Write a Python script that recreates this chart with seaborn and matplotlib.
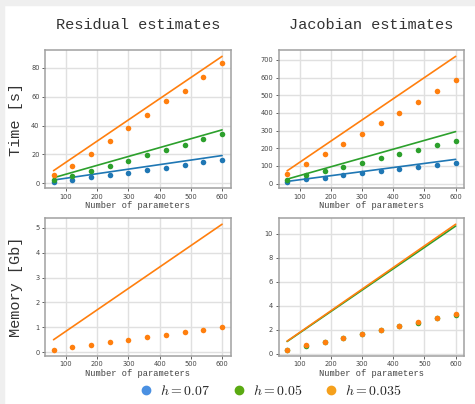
import numpy as np
import matplotlib
matplotlib.use('Agg')
import matplotlib.pyplot as plt
import seaborn as sns
from matplotlib.lines import Line2D
from matplotlib.patches import Rectangle

# data
n_params = [60, 120, 180, 240, 300, 360, 420, 480, 540, 600]
line_x = [60, 600]

res_time_007 = [1.0, 2.5, 4.0, 5.8, 7.3, 9.0, 10.8, 12.8, 14.5, 16.0]
res_time_005 = [2.5, 5.0, 8.3, 12.0, 15.5, 19.3, 23.0, 26.5, 30.5, 34.0]
res_time_0035 = [5.5, 12.0, 20.0, 29.0, 38.3, 47.3, 57.0, 64.3, 74.0, 83.5]
res_time_fit_007 = [2.2, 19.2]
res_time_fit_005 = [3.8, 37.0]
res_time_fit_0035 = [8.7, 88.0]

jac_time_007 = [10, 23, 34, 46, 58, 69, 80, 92, 104, 115]
jac_time_005 = [20, 47, 70, 93, 118, 142, 166, 191, 217, 241]
jac_time_0035 = [55, 113, 170, 226, 283, 342, 402, 461, 524, 586]
jac_time_fit_007 = [12, 137]
jac_time_fit_005 = [25, 294]
jac_time_fit_0035 = [72, 720]

res_mem_0035 = [0.1, 0.2, 0.3, 0.4, 0.5, 0.6, 0.7, 0.8, 0.9, 1.0]
res_mem_fit_0035 = [0.5, 5.15]

jac_mem_005 = [0.35, 0.68, 1.0, 1.33, 1.65, 1.98, 2.28, 2.6, 2.95, 3.25]
jac_mem_0035 = [0.36, 0.7, 1.02, 1.36, 1.69, 2.02, 2.35, 2.68, 3.02, 3.35]
jac_mem_fit_005 = [1.03, 10.65]
jac_mem_fit_0035 = [1.06, 10.8]

h_labels = ['$h = 0.07$', '$h = 0.05$', '$h = 0.035$']

blue, green, orange = '#1f77b4', '#2ca02c', '#ff7f0e'
legend_colors = ['#4a90e2', '#5aaa12', '#f5a01c']

sns.set_style('whitegrid', {'grid.color': '#e0e0e0', 'axes.edgecolor': '#a0a0a0'})
plt.rcParams['mathtext.fontset'] = 'cm'
mono = 'Liberation Mono'

fig, axes = plt.subplots(2, 2, figsize=(4.75, 4.04), dpi=100)
fig.subplots_adjust(left=0.095, right=0.977, bottom=0.119, top=0.876, wspace=0.26, hspace=0.217)


def draw(ax, series):
    for pts, fit, c in series:
        sns.lineplot(x=line_x, y=fit, color=c, lw=1.2, ax=ax)
        sns.scatterplot(x=n_params, y=pts, color=c, s=16, linewidth=0, ax=ax, zorder=3)


draw(axes[0, 0], [(res_time_007, res_time_fit_007, blue),
                  (res_time_005, res_time_fit_005, green),
                  (res_time_0035, res_time_fit_0035, orange)])
draw(axes[0, 1], [(jac_time_007, jac_time_fit_007, blue),
                  (jac_time_005, jac_time_fit_005, green),
                  (jac_time_0035, jac_time_fit_0035, orange)])
draw(axes[1, 0], [(res_mem_0035, res_mem_fit_0035, orange)])
draw(axes[1, 1], [(jac_mem_005, jac_mem_fit_005, green),
                  (jac_mem_0035, jac_mem_fit_0035, orange)])

axes[0, 0].set_title('Residual estimates', family=mono, fontsize=11, color='#333333', pad=15)
axes[0, 1].set_title('Jacobian estimates', family=mono, fontsize=11, color='#333333', pad=15)
axes[0, 0].set_ylabel('Time [s]', family=mono, fontsize=11, color='#333333')
axes[1, 0].set_ylabel('Memory [Gb]', family=mono, fontsize=11, color='#333333')

for ax in axes.flat:
    ax.set_xlabel('Number of parameters', family=mono, fontsize=6.3, color='#444444', labelpad=1)
    ax.set_xticks([100, 200, 300, 400, 500, 600])
    ax.tick_params(labelsize=4.8, colors='#444444', length=2.5, width=0.6, pad=1.5, left=True, bottom=True)
    ax.grid(True, lw=1.0, color='#e0e0e0')
    for s in ax.spines.values():
        s.set_linewidth(1.1)
        s.set_color('#a0a0a0')
    if ax.get_legend():
        ax.get_legend().remove()

axes[0, 0].yaxis.set_label_coords(-0.12, 0.5)
axes[1, 0].yaxis.set_label_coords(-0.12, 0.5)

handles = [Line2D([], [], marker='o', ls='', color=c, markersize=6) for c in legend_colors]
fig.legend(handles, h_labels, loc='center', bbox_to_anchor=(0.562, 0.033), ncol=3,
           frameon=False, fontsize=10, handletextpad=0.0, columnspacing=1.05)

# grey page edge seen at top and left
fig.patches.append(Rectangle((0, 1 - 5 / 404), 1, 5 / 404, transform=fig.transFigure,
                             color='#efefef', zorder=-1))
fig.patches.append(Rectangle((0, 0), 4 / 475, 1, transform=fig.transFigure,
                             color='#efefef', zorder=-1))

fig.savefig('out.png', dpi=100)
